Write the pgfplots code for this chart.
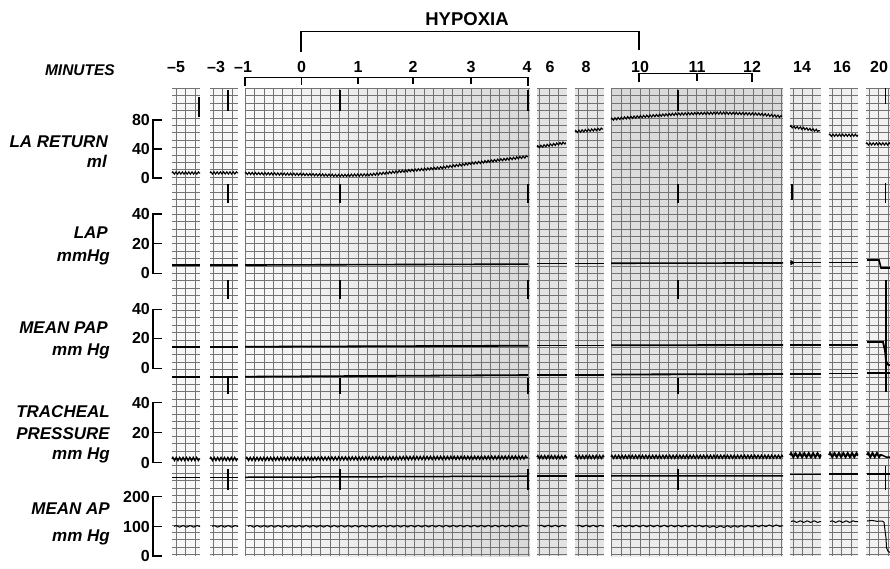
\documentclass[border=0pt]{standalone}
\usepackage{pgfplots}
\pgfplotsset{compat=1.18}
\usetikzlibrary{decorations.pathmorphing}
\usepackage{fontspec}
\setmainfont{Liberation Sans}

\pgfplotsset{
  la/.style={y filter/.expression={178-0.725*y}},
  lap/.style={y filter/.expression={273.3-1.48*y}},
  pap/.style={y filter/.expression={368.3-1.475*y}},
  tr/.style={y filter/.expression={462.7-1.5*y}},
  ap/.style={y filter/.expression={556-0.2965*y}},
  wla/.style={black, line width=1.1pt, decorate, decoration={zigzag, segment length=3.2pt, amplitude=1.1pt}},
  wlap/.style={black, line width=1.6pt},
  wpap/.style={black, line width=1.8pt},
  wtr/.style={black, line width=1.4pt, decorate, decoration={zigzag, segment length=3.4pt, amplitude=1.5pt}},
  wtrb/.style={black, line width=2pt, decorate, decoration={zigzag, segment length=4.4pt, amplitude=1.9pt}},
  wtb/.style={black, line width=1.5pt},
  wap/.style={black, line width=1pt, decorate, decoration={snake, segment length=7pt, amplitude=0.8pt}},
  sb/.style={black, line width=1.3pt},
  br/.style={black, line width=1.2pt},
  mk/.style={black, line width=1.8pt},
}

\newcommand{\strip}[5]{%
\begin{axis}[at={(#1pt,480pt)}, anchor=north west, scale only axis,
  width=#3, height=468pt, xmin=#1, xmax=#2, ymin=88, ymax=556, y dir=reverse,
  axis line style={draw=none}, tick style={draw=none},
  xtick={#4}, ytick={88.3,95.7,...,556}, xticklabels={}, yticklabels={},
  grid=major, major grid style={black!55, line width=0.5pt},
  axis background/.style={#5}]
\end{axis}}

\begin{document}
\begin{tikzpicture}
\strip{172}{200}{28pt}{176,185.4,194.8}{fill=gray!6}
\strip{210}{238}{28pt}{213,222.4,231.8}{fill=gray!6}
\strip{245}{530}{285pt}{245,254.43,...,530}{shade, left color=gray!5, right color=gray!30}
\strip{537}{567}{30pt}{539.5,548.9,558.4}{fill=gray!22}
\strip{575}{604}{29pt}{578,587.4,596.9}{fill=gray!20}
\strip{611}{783}{172pt}{611.7,621.13,...,783}{shade, top color=gray!30, bottom color=gray!15}
\strip{790}{821}{31pt}{793,802.4,811.9}{fill=gray!16}
\strip{829}{858}{29pt}{832,841.4,850.9}{fill=gray!12}
\strip{866}{890}{24pt}{869,878.4,887.9}{fill=gray!10}

\begin{axis}[at={(0pt,0pt)}, anchor=south west, scale only axis,
  width=890pt, height=568pt, xmin=0, xmax=890, ymin=0, ymax=568,
  y dir=reverse, hide axis, clip=false]

% ---- time brackets ----
\addplot[br] coordinates {(301,52)(301,31.5)(639,31.5)(639,50)};
\addplot[br] coordinates {(245,86)(245,77.5)(528,77.5)(528,86)};
\addplot[br] coordinates {(301.6,77.5)(301.6,85)};
\addplot[br] coordinates {(358,77.5)(358,84)};
\addplot[br] coordinates {(413,77.5)(413,84)};
\addplot[br] coordinates {(471,77.5)(471,84)};
\addplot[br] coordinates {(639,82)(639,73.5)(752,73.5)(752,82)};
\addplot[br] coordinates {(697,73.5)(697,81)};

\node[font=\fontsize{18.5}{18.5}\selectfont\bfseries, anchor=base, inner sep=0] at (axis cs:467,25) {HYPOXIA};
\node[font=\fontsize{15.5}{15.5}\selectfont\bfseries\itshape, anchor=base east, inner sep=0] at (axis cs:115,75) {MINUTES};
\begin{scope}[every node/.style={font=\fontsize{16}{16}\selectfont\bfseries, anchor=base, inner sep=0}]
\node at (axis cs:176,72) {–5};
\node at (axis cs:216,72) {–3};
\node at (axis cs:243,72) {–1};
\node at (axis cs:301.6,72) {0};
\node at (axis cs:358,72) {1};
\node at (axis cs:413,72) {2};
\node at (axis cs:471,72) {3};
\node at (axis cs:527,72) {4};
\node at (axis cs:550,72) {6};
\node at (axis cs:586,72) {8};
\node at (axis cs:640,72) {10};
\node at (axis cs:697,72) {11};
\node at (axis cs:752,72) {12};
\node at (axis cs:802,72) {14};
\node at (axis cs:842,72) {16};
\node at (axis cs:879,72) {20};
\end{scope}

% ---- channel labels ----
\begin{scope}[every node/.style={font=\fontsize{17}{17}\selectfont\bfseries\itshape, anchor=base east, inner sep=0}]
\node at (axis cs:108,147) {LA RETURN};
\node at (axis cs:107,167) {ml};
\node at (axis cs:108,238) {LAP};
\node at (axis cs:110,261) {mmHg};
\node at (axis cs:108,333) {MEAN PAP};
\node at (axis cs:110,355) {mm Hg};
\node at (axis cs:110,417) {TRACHEAL};
\node at (axis cs:110,439) {PRESSURE};
\node at (axis cs:110,459) {mm Hg};
\node at (axis cs:110,514) {MEAN AP};
\node at (axis cs:110,541) {mm Hg};
\end{scope}

% ---- scale bars ----
\addplot[sb, la] coordinates {(162,80)(153,80)(153,0)(162,0)};
\addplot[sb, la] coordinates {(153,40)(162,40)};
\addplot[sb, lap] coordinates {(162,40)(153,40)(153,0)(162,0)};
\addplot[sb, lap] coordinates {(153,20)(162,20)};
\addplot[sb, pap] coordinates {(162,40)(153,40)(153,0)(162,0)};
\addplot[sb, pap] coordinates {(153,20)(162,20)};
\addplot[sb, tr] coordinates {(162,40)(153,40)(153,0)(162,0)};
\addplot[sb, tr] coordinates {(153,20)(162,20)};
\addplot[sb, ap] coordinates {(162,200)(153,200)(153,0)(162,0)};
\addplot[sb, ap] coordinates {(153,100)(162,100)};
\begin{scope}[every node/.style={font=\fontsize{16}{16}\selectfont\bfseries, anchor=east, inner sep=0}]
\node at (axis cs:150,120) {80};
\node at (axis cs:150,149) {40};
\node at (axis cs:150,178) {0};
\node at (axis cs:150,214) {40};
\node at (axis cs:150,244) {20};
\node at (axis cs:150,273) {0};
\node at (axis cs:150,309) {40};
\node at (axis cs:150,338) {20};
\node at (axis cs:150,368) {0};
\node at (axis cs:150,403) {40};
\node at (axis cs:150,433) {20};
\node at (axis cs:150,463) {0};
\node at (axis cs:150,497) {200};
\node at (axis cs:150,527) {100};
\node at (axis cs:150,556) {0};
\end{scope}

% ---- LA RETURN (ml) ----
\addplot[la, wla] coordinates {(172,6.9)(200,6.9)};
\addplot[la, wla] coordinates {(210,7)(238,7)};
\addplot[la, wla] coordinates {(245,6.4)(300,5)(340,3.5)(370,4.5)(400,9)(440,14)(473,20.5)(507,26)(528,29.5)};
\addplot[la, wla] coordinates {(537,43)(566,48.5)};
\addplot[la, wla] coordinates {(575,64)(603,67.6)};
\addplot[la, wla] coordinates {(611,81)(630,83.5)(650,85.5)(675,88)(697,89)(720,89.5)(740,89)(760,88)(782,84.6)};
\addplot[la, wla] coordinates {(790,71)(805,68)(820,65)};
\addplot[la, wla] coordinates {(829,59)(858,59)};
\addplot[la, wla] coordinates {(866,47)(890,47)};

% ---- LAP (mmHg) ----
\addplot[lap, wlap] coordinates {(172,5.6)(200,5.6)};
\addplot[lap, wlap] coordinates {(210,5.6)(238,5.6)};
\addplot[lap, wlap] coordinates {(245,5.6)(528,6.2)};
\addplot[lap, wlap] coordinates {(537,6.5)(567,6.5)};
\addplot[lap, wlap] coordinates {(575,6.6)(604,6.6)};
\addplot[lap, wlap] coordinates {(611,6.8)(783,7)};
\addplot[lap, wlap] coordinates {(790,7.2)(821,7.2)};
\addplot[lap, only marks, mark=triangle*, mark size=2.6pt, mark options={rotate=-90, fill=black}] coordinates {(792,7.2)};
\addplot[lap, wlap] coordinates {(829,7.2)(858,7.2)};
\addplot[lap, wlap] coordinates {(867,9)(879,9)(881,3.6)(890,3.6)};

% ---- MEAN PAP (mmHg) ----
\addplot[pap, wpap] coordinates {(172,14.6)(200,14.6)};
\addplot[pap, wpap] coordinates {(210,14.6)(238,14.6)};
\addplot[pap, wpap] coordinates {(245,14.6)(528,15.3)};
\addplot[pap, wpap] coordinates {(537,15.5)(567,15.5)};
\addplot[pap, wpap] coordinates {(575,15.5)(604,15.5)};
\addplot[pap, wpap] coordinates {(611,15.6)(783,15.8)};
\addplot[pap, wpap] coordinates {(790,16)(821,16)};
\addplot[pap, wpap] coordinates {(829,16)(858,16)};
\addplot[pap, wpap] coordinates {(867,17.8)(883,17.8)(885,12)(886,5)(888,2.5)(890,2)};
\addplot[pap, wpap] coordinates {(172,-5.7)(200,-5.7)};
\addplot[pap, wpap] coordinates {(210,-5.7)(238,-5.7)};
\addplot[pap, wpap] coordinates {(245,-5.7)(528,-4.6)};
\addplot[pap, wpap] coordinates {(537,-4.4)(567,-4.4)};
\addplot[pap, wpap] coordinates {(575,-4.3)(604,-4.3)};
\addplot[pap, wpap] coordinates {(611,-4.2)(783,-3.9)};
\addplot[pap, wpap] coordinates {(790,-3.6)(821,-3.6)};
\addplot[pap, wpap] coordinates {(829,-3.5)(858,-3.5)};
\addplot[pap, wpap] coordinates {(867,-3.2)(890,-3.2)};

% ---- TRACHEAL PRESSURE (mmHg) ----
\addplot[tr, wtr] coordinates {(172,2.5)(200,2.5)};
\addplot[tr, wtr] coordinates {(210,2.5)(238,2.5)};
\addplot[tr, wtr] coordinates {(246,2.5)(528,3.5)};
\addplot[tr, wtr] coordinates {(537,3.7)(567,3.7)};
\addplot[tr, wtr] coordinates {(575,3.8)(604,3.8)};
\addplot[tr, wtr] coordinates {(611,3.9)(783,4)};
\addplot[tr, wtrb] coordinates {(790,5)(821,5)};
\addplot[tr, wtrb] coordinates {(829,5.1)(858,5.1)};
\addplot[tr, wtrb] coordinates {(867,5.1)(882,5.1)};
\addplot[tr, wtb] coordinates {(882,5.1)(886,3.8)(890,3.8)};
\addplot[tr, wtb] coordinates {(172,-9.7)(200,-9.7)};
\addplot[tr, wtb] coordinates {(210,-9.7)(238,-9.7)};
\addplot[tr, wtb] coordinates {(245,-9.7)(528,-9)};
\addplot[tr, wtb] coordinates {(537,-8.9)(567,-8.9)};
\addplot[tr, wtb] coordinates {(575,-8.8)(604,-8.8)};
\addplot[tr, wtb] coordinates {(611,-8.8)(783,-8.7)};
\addplot[tr, wtb] coordinates {(790,-7.8)(821,-7.8)};
\addplot[tr, wtb] coordinates {(829,-7.6)(858,-7.6)};
\addplot[tr, wtb] coordinates {(867,-7.5)(890,-7.5)};

% ---- MEAN AP (mmHg) ----
\addplot[ap, wap] coordinates {(174,100)(200,100)};
\addplot[ap, wap] coordinates {(212,100)(238,100)};
\addplot[ap, wap] coordinates {(248,100)(528,101)};
\addplot[ap, wap] coordinates {(539,101)(566,101)};
\addplot[ap, wap] coordinates {(577,101)(604,101)};
\addplot[ap, wap] coordinates {(613,101)(700,101)(713,98)(783,102)};
\addplot[ap, wap] coordinates {(791,116)(821,116)};
\addplot[ap, wap] coordinates {(830,116)(858,116)};
\addplot[ap, black, line width=1pt] coordinates {(867,118)(872,120)(877,117)(882,118)(884,114)(886,60)(886.5,28)(888,16)(890,12)};

% ---- event markers ----
\addplot[mk] coordinates {(199,97)(199,117)};
\pgfplotsinvokeforeach{228,340,528,678}{
  \addplot[mk] coordinates {(#1,90)(#1,111)};
  \addplot[mk] coordinates {(#1,184)(#1,203)};
  \addplot[mk] coordinates {(#1,280)(#1,299)};
  \addplot[mk] coordinates {(#1,378)(#1,394)};
  \addplot[black, line width=1.1pt] coordinates {(#1,469)(#1,490)};
}
\addplot[mk] coordinates {(885.5,88)(885.5,104)};
\addplot[mk] coordinates {(885.5,183)(885.5,203)};
\addplot[black, line width=1.3pt] coordinates {(886,280)(886,392)};
\addplot[black, line width=1.1pt] coordinates {(885.5,466)(885.5,490)};
\addplot[black, line width=2.5pt] coordinates {(792,184)(792,200)};
\end{axis}
\pgfresetboundingbox
\path (0pt,0pt) rectangle (890pt,568pt);
\end{tikzpicture}
\end{document}
